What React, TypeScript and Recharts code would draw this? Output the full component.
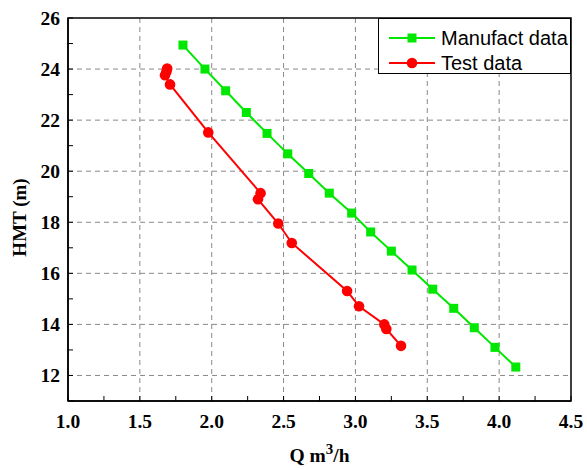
import React from "react";
import {
  CartesianGrid,
  Legend,
  ReferenceArea,
  Scatter,
  ScatterChart,
  XAxis,
  YAxis,
} from "recharts";

const manufactQ = [1.8, 1.953, 2.097, 2.241, 2.385, 2.529, 2.675, 2.818, 2.974, 3.106, 3.25, 3.394, 3.538, 3.684, 3.827, 3.971, 4.116];
const manufactH = [24.94, 24.0, 23.15, 22.3, 21.48, 20.68, 19.91, 19.14, 18.36, 17.62, 16.87, 16.13, 15.38, 14.63, 13.87, 13.1, 12.33];

const testQ = [1.69, 1.685, 1.675, 1.71, 1.976, 2.34, 2.322, 2.463, 2.557, 2.942, 3.025, 3.201, 3.215, 3.317];
const testH = [24.02, 23.9, 23.76, 23.4, 21.52, 19.14, 18.9, 17.95, 17.19, 15.31, 14.71, 14.0, 13.82, 13.16];

const xTicks = [1, 1.25, 1.5, 1.75, 2, 2.25, 2.5, 2.75, 3, 3.25, 3.5, 3.75, 4, 4.25, 4.5];
const yTicks = [11, 12, 13, 14, 15, 16, 17, 18, 19, 20, 21, 22, 23, 24, 25, 26];
const xGrid = [1.5, 2, 2.5, 3, 3.5, 4];
const yGrid = [12, 14, 16, 18, 20, 22, 24];

const manufactData = manufactQ.map((q, i) => ({ q, h: manufactH[i] }));
const testData = testQ.map((q, i) => ({ q, h: testH[i] }));

const GREEN = "#00e800";
const RED = "#ff0000";
const serif = "'Liberation Serif', 'Times New Roman', serif";
const sans = "'Liberation Sans', Arial, sans-serif";

const XTick = (props: any) => {
  const { x, y, payload } = props;
  const v = payload.value;
  const major = Math.abs(v * 2 - Math.round(v * 2)) < 1e-6;
  return (
    <g>
      <line x1={x} x2={x} y1={y} y2={y - 5} stroke="#000" strokeWidth={1} />
      {major && (
        <text x={x} y={y + 27} textAnchor="middle" fontFamily={serif} fontWeight="bold" fontSize={19.5} fill="#000">
          {v.toFixed(1)}
        </text>
      )}
    </g>
  );
};

const YTick = (props: any) => {
  const { x, y, payload } = props;
  const v = payload.value;
  const major = v % 2 === 0;
  return (
    <g>
      <line x1={x} x2={x + 5} y1={y} y2={y} stroke="#000" strokeWidth={1} />
      {major && (
        <text x={x - 8} y={y + 7} textAnchor="end" fontFamily={serif} fontWeight="bold" fontSize={19.5} fill="#000">
          {v}
        </text>
      )}
    </g>
  );
};

const Square = (props: any) => {
  const { cx, cy } = props;
  return <rect x={cx - 4.5} y={cy - 4.5} width={9} height={9} fill={GREEN} />;
};

const Dot = (props: any) => {
  const { cx, cy } = props;
  return <circle cx={cx} cy={cy} r={5.3} fill={RED} />;
};

const LegendBox = () => (
  <div
    style={{
      border: "1px solid #000",
      background: "#fff",
      width: 193,
      height: 56,
      boxSizing: "border-box",
    }}
  >
    <svg width={191} height={54} style={{ display: "block" }}>
      <line x1={10} x2={56} y1={19} y2={19} stroke={GREEN} strokeWidth={2} />
      <rect x={28.5} y={14.5} width={9} height={9} fill={GREEN} />
      <text x={62} y={26} fontFamily={sans} fontSize={20} fill="#000">
        Manufact data
      </text>
      <line x1={10} x2={56} y1={44} y2={44} stroke={RED} strokeWidth={2} />
      <circle cx={33} cy={44} r={5.3} fill={RED} />
      <text x={62} y={51} fontFamily={sans} fontSize={20} fill="#000">
        Test data
      </text>
    </svg>
  </div>
);

const XLabel = (props: any) => {
  const { viewBox } = props;
  const cx = viewBox.x + viewBox.width / 2;
  return (
    <text x={cx} y={viewBox.y + 61} textAnchor="middle" fontFamily={serif} fontWeight="bold" fontSize={19.5} fill="#000">
      Q m
      <tspan dy={-8} fontSize={15}>3</tspan>
      <tspan dy={8}>/h</tspan>
    </text>
  );
};

const YLabel = (props: any) => {
  const { viewBox } = props;
  const cy = viewBox.y + viewBox.height / 2 + 8;
  return (
    <text
      x={19}
      y={cy}
      transform={`rotate(-90, 19, ${cy})`}
      textAnchor="middle"
      dominantBaseline="central"
      fontFamily={serif}
      fontWeight="bold"
      fontSize={19}
      fill="#000"
    >
      HMT (m)
    </text>
  );
};

export default function App() {
  return (
    <div style={{ position: "absolute", left: 0, top: 0, background: "#fff" }}>
      <ScatterChart width={587} height={470} margin={{ top: 18, right: 16, left: 0, bottom: 0 }}>
        <CartesianGrid
          stroke="#888"
          strokeDasharray="5 4"
          horizontalValues={yGrid}
          verticalValues={xGrid}
        />
        <XAxis
          type="number"
          dataKey="q"
          domain={[1, 4.5]}
          ticks={xTicks}
          interval={0}
          height={69}
          tickSize={0}
          tickMargin={0}
          tickLine={false}
          tick={<XTick />}
          axisLine={{ stroke: "#000", strokeWidth: 1.5 }}
          label={<XLabel />}
        />
        <YAxis
          type="number"
          dataKey="h"
          domain={[11, 26]}
          ticks={yTicks}
          interval={0}
          width={68}
          tickSize={0}
          tickMargin={0}
          tickLine={false}
          tick={<YTick />}
          axisLine={{ stroke: "#000", strokeWidth: 1.5 }}
          label={<YLabel />}
        />
        <ReferenceArea x1={1} x2={4.5} y1={11} y2={26} fill="none" stroke="#000" strokeWidth={1.5} />
        <Scatter
          name="Manufact data"
          data={manufactData}
          line={{ stroke: GREEN, strokeWidth: 2 }}
          shape={<Square />}
          isAnimationActive={false}
        />
        <Scatter
          name="Test data"
          data={testData}
          line={{ stroke: RED, strokeWidth: 2 }}
          shape={<Dot />}
          isAnimationActive={false}
        />
        <Legend
          layout="vertical"
          align="center"
          verticalAlign="middle"
          content={<LegendBox />}
          wrapperStyle={{ position: "absolute", left: 378, top: 18, width: 193, height: 56 }}
        />
      </ScatterChart>
    </div>
  );
}
